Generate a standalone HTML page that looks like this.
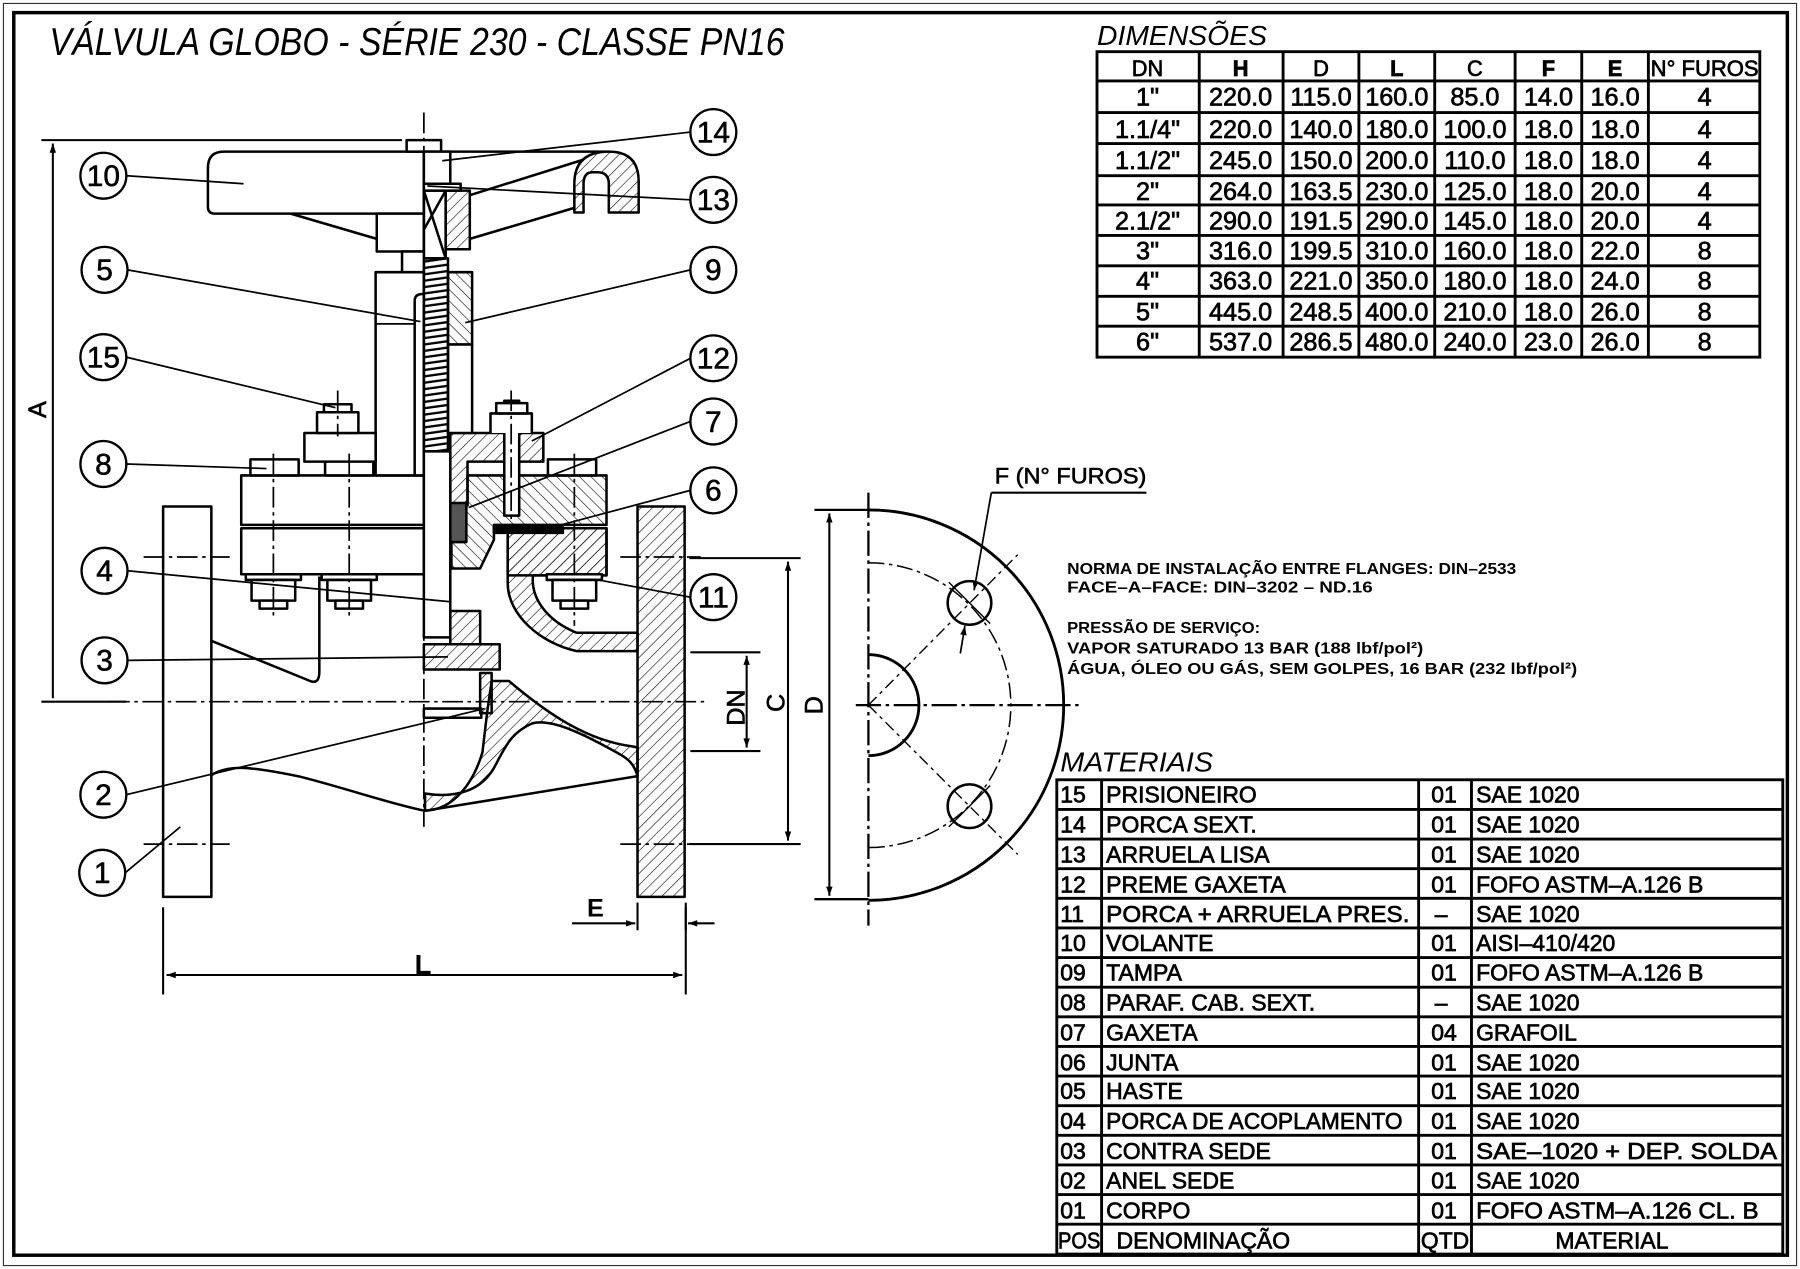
<!DOCTYPE html>
<html><head><meta charset="utf-8"><style>
html,body{margin:0;padding:0;background:#fff;}
svg{display:block;}
text{font-family:"Liberation Sans",sans-serif;fill:#000;}
.t{font-size:22px;text-anchor:middle;stroke:#000;stroke-width:0.6;}
.m{font-size:20px;stroke:#000;stroke-width:0.6;}
.n{font-size:14px;font-weight:bold;}
.c{stroke:#000;stroke-width:0.5;}
</style></head><body>
<svg width="1800" height="1269" viewBox="0 0 1567 1105" preserveAspectRatio="none" xmlns="http://www.w3.org/2000/svg">
<defs>
<pattern id="h" width="7" height="7" patternUnits="userSpaceOnUse" patternTransform="rotate(45)">
<line x1="0" y1="0" x2="0" y2="7" stroke="#000" stroke-width="1"/></pattern>
<pattern id="h2" width="7" height="7" patternUnits="userSpaceOnUse" patternTransform="rotate(-45)">
<line x1="0" y1="0" x2="0" y2="7" stroke="#000" stroke-width="1"/></pattern>
<pattern id="th" width="20" height="5.5" patternUnits="userSpaceOnUse" patternTransform="rotate(-8)">
<line x1="0" y1="2" x2="20" y2="2" stroke="#000" stroke-width="2"/></pattern>
<marker id="ar" viewBox="0 0 10 10" refX="10" refY="5" markerWidth="12" markerHeight="8" orient="auto-start-reverse" markerUnits="userSpaceOnUse"><path d="M0,1.5 L10,5 L0,8.5 Z" fill="#000"/></marker>
</defs>
<rect x="0" y="0" width="1567" height="1105" fill="#fff"/>
<rect x="3" y="3" width="1561" height="1099" fill="none" stroke="#333" stroke-width="1"/>
<rect x="12" y="11" width="1544" height="1082" fill="none" stroke="#000" stroke-width="3"/>

<text x="43" y="48" font-size="34" font-style="italic" textLength="640" lengthAdjust="spacingAndGlyphs">VÁLVULA GLOBO - SÉRIE 230 - CLASSE PN16</text>

<!-- DIMENSOES table -->
<text x="955" y="39" font-size="24" font-style="italic" textLength="148" lengthAdjust="spacingAndGlyphs">DIMENSÕES</text>
<g stroke="#000" stroke-width="2.5" fill="none">
<rect x="955" y="45" width="577" height="266"/>
<path d="M1044,45V311M1117,45V311M1183,45V311M1249,45V311M1319,45V311M1377,45V311M1435,45V311"/>
<path d="M955,70.5H1532M955,98H1532M955,125H1532M955,153H1532M955,178.5H1532M955,205H1532M955,231.5H1532M955,258H1532M955,284H1532"/>
</g>
<g class="t">
<text x="999" y="66" font-size="19">DN</text><text x="1080" y="66" font-weight="bold" font-size="19">H</text><text x="1150" y="66" font-size="19">D</text><text x="1216" y="66" font-weight="bold" font-size="19">L</text><text x="1284" y="66" font-size="19">C</text><text x="1348" y="66" font-weight="bold" font-size="19">F</text><text x="1406" y="66" font-weight="bold" font-size="19">E</text><text x="1484" y="66" font-size="19" textLength="94" lengthAdjust="spacingAndGlyphs">N° FUROS</text>
<text x="999" y="92">1"</text><text x="1080" y="92">220.0</text><text x="1150" y="92">115.0</text><text x="1216" y="92">160.0</text><text x="1284" y="92">85.0</text><text x="1348" y="92">14.0</text><text x="1406" y="92">16.0</text><text x="1484" y="92">4</text>
<text x="999" y="120">1.1/4"</text><text x="1080" y="120">220.0</text><text x="1150" y="120">140.0</text><text x="1216" y="120">180.0</text><text x="1284" y="120">100.0</text><text x="1348" y="120">18.0</text><text x="1406" y="120">18.0</text><text x="1484" y="120">4</text>
<text x="999" y="147">1.1/2"</text><text x="1080" y="147">245.0</text><text x="1150" y="147">150.0</text><text x="1216" y="147">200.0</text><text x="1284" y="147">110.0</text><text x="1348" y="147">18.0</text><text x="1406" y="147">18.0</text><text x="1484" y="147">4</text>
<text x="999" y="174">2"</text><text x="1080" y="174">264.0</text><text x="1150" y="174">163.5</text><text x="1216" y="174">230.0</text><text x="1284" y="174">125.0</text><text x="1348" y="174">18.0</text><text x="1406" y="174">20.0</text><text x="1484" y="174">4</text>
<text x="999" y="200">2.1/2"</text><text x="1080" y="200">290.0</text><text x="1150" y="200">191.5</text><text x="1216" y="200">290.0</text><text x="1284" y="200">145.0</text><text x="1348" y="200">18.0</text><text x="1406" y="200">20.0</text><text x="1484" y="200">4</text>
<text x="999" y="226">3"</text><text x="1080" y="226">316.0</text><text x="1150" y="226">199.5</text><text x="1216" y="226">310.0</text><text x="1284" y="226">160.0</text><text x="1348" y="226">18.0</text><text x="1406" y="226">22.0</text><text x="1484" y="226">8</text>
<text x="999" y="252">4"</text><text x="1080" y="252">363.0</text><text x="1150" y="252">221.0</text><text x="1216" y="252">350.0</text><text x="1284" y="252">180.0</text><text x="1348" y="252">18.0</text><text x="1406" y="252">24.0</text><text x="1484" y="252">8</text>
<text x="999" y="279">5"</text><text x="1080" y="279">445.0</text><text x="1150" y="279">248.5</text><text x="1216" y="279">400.0</text><text x="1284" y="279">210.0</text><text x="1348" y="279">18.0</text><text x="1406" y="279">26.0</text><text x="1484" y="279">8</text>
<text x="999" y="305">6"</text><text x="1080" y="305">537.0</text><text x="1150" y="305">286.5</text><text x="1216" y="305">480.0</text><text x="1284" y="305">240.0</text><text x="1348" y="305">23.0</text><text x="1406" y="305">26.0</text><text x="1484" y="305">8</text>
</g>

<!-- MATERIAIS table -->
<text x="923" y="672" font-size="24" font-style="italic" textLength="133" lengthAdjust="spacingAndGlyphs">MATERIAIS</text>
<g stroke="#000" stroke-width="2.5" fill="none">
<rect x="920" y="679" width="632" height="413"/>
<path d="M959,679V1092M1235,679V1092M1281,679V1092"/>
<path d="M920,704.8H1552M920,730.6H1552M920,756.4H1552M920,782.2H1552M920,808H1552M920,833.8H1552M920,859.6H1552M920,885.4H1552M920,911.2H1552M920,937H1552M920,962.8H1552M920,988.6H1552M920,1014.4H1552M920,1040.2H1552M920,1066H1552"/>
</g>
<g class="m">
<text x="923" y="699">15</text><text x="963" y="699">PRISIONEIRO</text><text x="1246" y="699">01</text><text x="1285" y="699">SAE 1020</text>
<text x="923" y="725">14</text><text x="963" y="725">PORCA SEXT.</text><text x="1246" y="725">01</text><text x="1285" y="725">SAE 1020</text>
<text x="923" y="751">13</text><text x="963" y="751">ARRUELA LISA</text><text x="1246" y="751">01</text><text x="1285" y="751">SAE 1020</text>
<text x="923" y="777">12</text><text x="963" y="777">PREME GAXETA</text><text x="1246" y="777">01</text><text x="1285" y="777">FOFO ASTM–A.126 B</text>
<text x="923" y="803">11</text><text x="963" y="803" textLength="264" lengthAdjust="spacingAndGlyphs">PORCA + ARRUELA PRES.</text><text x="1249" y="803">–</text><text x="1285" y="803">SAE 1020</text>
<text x="923" y="828">10</text><text x="963" y="828">VOLANTE</text><text x="1246" y="828">01</text><text x="1285" y="828">AISI–410/420</text>
<text x="923" y="854">09</text><text x="963" y="854">TAMPA</text><text x="1246" y="854">01</text><text x="1285" y="854">FOFO ASTM–A.126 B</text>
<text x="923" y="880">08</text><text x="963" y="880">PARAF. CAB. SEXT.</text><text x="1249" y="880">–</text><text x="1285" y="880">SAE 1020</text>
<text x="923" y="906">07</text><text x="963" y="906">GAXETA</text><text x="1246" y="906">04</text><text x="1285" y="906">GRAFOIL</text>
<text x="923" y="932">06</text><text x="963" y="932">JUNTA</text><text x="1246" y="932">01</text><text x="1285" y="932">SAE 1020</text>
<text x="923" y="957">05</text><text x="963" y="957">HASTE</text><text x="1246" y="957">01</text><text x="1285" y="957">SAE 1020</text>
<text x="923" y="983">04</text><text x="963" y="983" textLength="258" lengthAdjust="spacingAndGlyphs">PORCA DE ACOPLAMENTO</text><text x="1246" y="983">01</text><text x="1285" y="983">SAE 1020</text>
<text x="923" y="1009">03</text><text x="963" y="1009">CONTRA SEDE</text><text x="1246" y="1009">01</text><text x="1285" y="1009" textLength="262" lengthAdjust="spacingAndGlyphs">SAE–1020 + DEP. SOLDA</text>
<text x="923" y="1035">02</text><text x="963" y="1035">ANEL SEDE</text><text x="1246" y="1035">01</text><text x="1285" y="1035">SAE 1020</text>
<text x="923" y="1061">01</text><text x="963" y="1061">CORPO</text><text x="1246" y="1061">01</text><text x="1285" y="1061" textLength="246" lengthAdjust="spacingAndGlyphs">FOFO ASTM–A.126 CL. B</text>
<text x="921" y="1087" textLength="37" lengthAdjust="spacingAndGlyphs">POS</text><text x="972" y="1087">DENOMINAÇÃO</text><text x="1237" y="1087" textLength="42" lengthAdjust="spacingAndGlyphs">QTD</text><text x="1354" y="1087">MATERIAL</text>
</g>

<!-- Notes -->
<g class="n">
<text x="929" y="500" textLength="391" lengthAdjust="spacingAndGlyphs">NORMA DE INSTALAÇÃO ENTRE FLANGES: DIN–2533</text>
<text x="929" y="516" textLength="266" lengthAdjust="spacingAndGlyphs">FACE–A–FACE: DIN–3202 – ND.16</text>
<text x="929" y="551" textLength="168" lengthAdjust="spacingAndGlyphs">PRESSÃO DE SERVIÇO:</text>
<text x="929" y="569" textLength="310" lengthAdjust="spacingAndGlyphs">VAPOR SATURADO 13 BAR (188 lbf/pol²)</text>
<text x="929" y="587" textLength="444" lengthAdjust="spacingAndGlyphs">ÁGUA, ÓLEO OU GÁS, SEM GOLPES, 16 BAR (232 lbf/pol²)</text>
</g>

<!-- Flange front view -->
<g stroke="#000" fill="none">
<path d="M756,444 A170,170 0 0 1 756,784" stroke-width="2.5"/>
<path d="M756,490 A124,124 0 0 1 756,738" stroke-width="1.3" stroke-dasharray="14,4,3,4"/>
<path d="M756,570 A44,44 0 0 1 756,658" stroke-width="2.5"/>
<circle cx="844" cy="525" r="19" stroke-width="2.2"/>
<circle cx="844" cy="702" r="19" stroke-width="2.2"/>
<path d="M756,614 L886,483 M756,614 L886,744" stroke-width="1.2" stroke-dasharray="10,4,3,4"/>
<path d="M826,507 L862,543 M826,720 L862,684" stroke-width="1.2"/>
<path d="M756,429 V806" stroke-width="2" stroke-dasharray="22,4,3,4"/>
<path d="M745,614 H941" stroke-width="2" stroke-dasharray="22,4,3,4"/>
<path d="M709,444 H756 M709,783 H756" stroke-width="2"/>
<path d="M722,447 V780" stroke-width="1.8" marker-start="url(#ar)" marker-end="url(#ar)"/>
<path d="M863,429 H998" stroke-width="1.8"/>
<path d="M863,429 L848,514" stroke-width="1.5" marker-end="url(#ar)"/>
<path d="M836,569 L840,545" stroke-width="1.5" marker-end="url(#ar)"/>
</g>
<text class="c" x="866" y="421" font-size="19" textLength="132" lengthAdjust="spacingAndGlyphs">F (N° FUROS)</text>

<!-- Dimensions on valve -->
<g stroke="#000" fill="none" stroke-width="1.8">
<path d="M36,122 H350"/>
<path d="M46,125 V608" marker-start="url(#ar)"/>
<path d="M36,611 H110"/>
<path d="M142,790 V866 M597,790 V866"/>
<path d="M145,849 H594" marker-start="url(#ar)" marker-end="url(#ar)"/>
<path d="M555,786 V810 M597,786 V810"/>
<path d="M498,804 H553" marker-end="url(#ar)"/>
<path d="M599,804 H622" marker-start="url(#ar)"/>
<path d="M601,568 H662 M601,654 H662"/>
<path d="M650,571 V651" marker-start="url(#ar)" marker-end="url(#ar)"/>
<path d="M600,486 H697 M600,735 H697"/>
<path d="M686,489 V732" marker-start="url(#ar)" marker-end="url(#ar)"/>
</g>
<text class="c" x="0" y="0" font-size="22" transform="translate(40,364) rotate(-90)">A</text>
<text x="361" y="848" font-size="24" font-weight="bold">L</text>
<text x="511" y="798" font-size="22" font-weight="bold">E</text>
<text class="c" x="0" y="0" font-size="22" transform="translate(648,632) rotate(-90)">DN</text>
<text class="c" x="0" y="0" font-size="22" transform="translate(683,620) rotate(-90)">C</text>
<text class="c" x="0" y="0" font-size="22" transform="translate(716,622) rotate(-90)">D</text>

<!-- Valve drawing -->
<g stroke="#000" stroke-width="2.2" fill="#fff" stroke-linejoin="round">
<rect x="142" y="441" width="42" height="340"/>
<path d="M184,675 C200,665 220,668 260,676 C300,686 340,700 370,706 L554,676" fill="none"/>
<path d="M184,558 L270,593 Q278,596 278,585 L278,502" fill="none"/>
<rect x="555" y="441" width="41" height="340" fill="url(#h)"/>
<path d="M428,593 L443,593 C475,620 510,645 551,650 L555,651 L555,676 C552,664 545,660 540,657 C510,640 480,625 463,630 C445,638 440,650 432,665 C420,690 395,695 370,691 L370,706 C395,705 412,682 420,655 L424,621 Z" fill="url(#h)"/>
<path d="M442,460 L528,460 L528,501 L464,501 C462,520 475,540 502,551 L555,551 L555,567 L502,567 C470,560 442,535 442,508 Z" fill="url(#h)"/>
<rect x="442" y="460" width="86" height="41" fill="url(#h)"/>
<path d="M407,414 L528,414 L528,457 L430,457 L430,470 L418,495 L393,495 L393,440 L407,440 Z" fill="url(#h2)"/>
<path d="M430,459 L490,459 L490,464 L430,464 Z" fill="#000"/>
<path d="M392,377 L473,377 L473,402 L407,402 L407,440 L392,440 Z" fill="url(#h)"/>
<rect x="392" y="438" width="14" height="34" fill="#555"/>
<rect x="439" y="349" width="13" height="100"/>
<path d="M427,377 L427,360 L463,360 L463,377" />
<rect x="432" y="351" width="27" height="9"/>
<rect x="210" y="414" width="159" height="43"/>
<rect x="210" y="460" width="159" height="40"/>
<rect x="218" y="400" width="42" height="14"/>
<rect x="283" y="400" width="42" height="14"/>
<rect x="477" y="400" width="42" height="14"/>
<rect x="214" y="500" width="48" height="5"/><rect x="219" y="505" width="38" height="18"/><rect x="226" y="523" width="24" height="7"/>
<rect x="280" y="500" width="48" height="5"/><rect x="285" y="505" width="38" height="18"/><rect x="292" y="523" width="24" height="7"/>
<rect x="476" y="500" width="48" height="5"/><rect x="481" y="505" width="38" height="18"/><rect x="488" y="523" width="24" height="7"/>
<rect x="327" y="237" width="42" height="177"/>
<path d="M361,414 V262 Q361,256 368,256" fill="none"/>
<path d="M327,282 H361" fill="none" stroke-width="1.5"/>
<rect x="265" y="377" width="62" height="25"/>
<rect x="276" y="359" width="36" height="18"/>
<rect x="282" y="352" width="24" height="7"/>
<rect x="390" y="237" width="21" height="63" fill="url(#h2)"/>
<rect x="390" y="300" width="21" height="77"/>
<rect x="369" y="225" width="21" height="168" fill="url(#th)"/>
<rect x="369" y="393" width="23" height="162"/>
<rect x="392" y="532" width="26" height="29" fill="url(#h)"/>
<rect x="369" y="561" width="66" height="22" fill="url(#h)"/>
<rect x="418" y="586" width="10" height="35" fill="url(#h)"/>
<rect x="369" y="617" width="50" height="8" fill="none"/>
<path d="M369,132 L195,132 Q181,132 181,146 L181,180 Q181,186 187,186 L369,186 Z"/>
<rect x="328" y="186" width="41" height="33"/>
<path d="M253,186 L328,208" fill="none"/>
<path d="M369,132 L530,132 Q556,132 556,158 L556,185 L530,185 L530,160 Q530,150 520,150 L516,150 Q508,150 508,160 L508,185 L500,185 L500,160 Q500,132 530,132" fill="url(#h)"/>
<path d="M409,170 L508,139 M409,208 L500,181" fill="none"/>
<rect x="388" y="166" width="21" height="51" fill="url(#h)"/>
<path d="M369,166 L388,166 L388,225 L369,225 Z M369,166 L388,225 M388,166 L369,200" fill="none"/>
<rect x="354" y="122" width="30" height="10"/>
<rect x="369" y="132" width="23" height="28"/>
<rect x="369" y="160" width="32" height="6"/>
<rect x="350" y="219" width="19" height="18"/>
</g>
<g stroke="#000" fill="none" stroke-width="1.5" stroke-dasharray="18,4,3,4">
<path d="M369,98 V720"/>
<path d="M95,611 H615"/>
<path d="M238,395 V540 M304,395 V540 M500,395 V545 M445,340 V460 M294,340 V380"/>
<path d="M125,485 H200 M540,485 H610 M125,735 H200 M540,735 H610"/>
</g>
<g stroke="#000" stroke-width="1.5" fill="none">
<path d="M110,153 L212,160 M601,115 L385,140 M601,174 L372,162 M111,235 L366,280 M601,235 L405,281 M110,311 L292,355 M601,312 L463,384 M601,367 L408,442 M110,404 L232,408 M601,427 L470,462 M111,497 L392,524 M601,520 L521,505 M111,575 L390,572 M110,692 L422,617 M109,760 L157,720"/>
</g>
<g stroke="#000" stroke-width="2" fill="#fff">
<circle cx="621" cy="115" r="20"/><circle cx="621" cy="174" r="20"/><circle cx="90" cy="153" r="20"/><circle cx="91" cy="235" r="20"/><circle cx="621" cy="235" r="20"/><circle cx="90" cy="311" r="20"/><circle cx="621" cy="312" r="20"/><circle cx="621" cy="367" r="20"/><circle cx="90" cy="404" r="20"/><circle cx="621" cy="427" r="20"/><circle cx="91" cy="497" r="20"/><circle cx="621" cy="520" r="20"/><circle cx="91" cy="575" r="20"/><circle cx="90" cy="692" r="20"/><circle cx="89" cy="760" r="20"/>
</g>
<g font-size="26" text-anchor="middle" class="c">
<text x="621" y="124">14</text><text x="621" y="183">13</text><text x="90" y="162">10</text><text x="91" y="244">5</text><text x="621" y="244">9</text><text x="90" y="320">15</text><text x="621" y="321">12</text><text x="621" y="376">7</text><text x="90" y="413">8</text><text x="621" y="436">6</text><text x="91" y="506">4</text><text x="621" y="529">11</text><text x="91" y="584">3</text><text x="90" y="701">2</text><text x="89" y="769">1</text>
</g>
</svg>
</body></html>
